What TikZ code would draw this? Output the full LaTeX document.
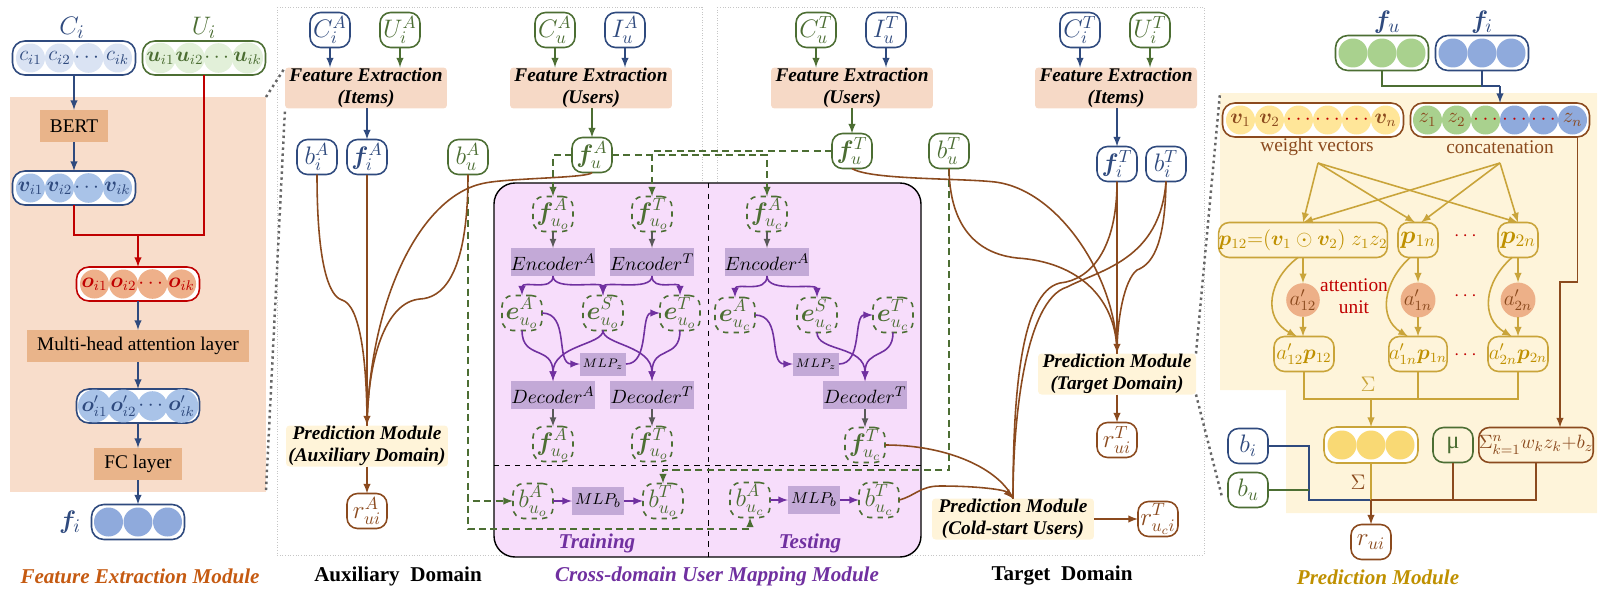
\documentclass[tikz,border=0pt]{standalone}
\usepackage{amsmath}
\usepackage{amssymb}
\usepackage{bm}
\usepackage{fontspec}
\setmainfont{Liberation Serif}
\usepackage{tikz}
\usetikzlibrary{arrows}
\usetikzlibrary{positioning}

\definecolor{dblue}{HTML}{2F4A7E}
\definecolor{dgreen}{HTML}{4C6E33}
\definecolor{brn}{HTML}{8B4A1E}
\definecolor{vpurple}{HTML}{7030A0}
\definecolor{gold}{HTML}{BF9000}
\definecolor{goldl}{HTML}{C9A43A}
\definecolor{dred}{HTML}{C00000}
\definecolor{orng}{HTML}{C55A11}
\definecolor{bgpeach}{HTML}{F8DDCB}
\definecolor{fepeach}{HTML}{F6D9C6}
\definecolor{layerpeach}{HTML}{E9B48A}
\definecolor{pmyellow}{HTML}{FFF4D9}
\definecolor{pmbg}{HTML}{FEF4DA}
\definecolor{mapbg}{HTML}{F7DDFB}
\definecolor{nnpurple}{HTML}{C3A9D7}
\definecolor{cblue}{HTML}{DAE3F3}
\definecolor{cgreen}{HTML}{E2F0D9}
\definecolor{vblue}{HTML}{A9C3E8}
\definecolor{osalmon}{HTML}{EEB08A}
\definecolor{fblue}{HTML}{8FAADC}
\definecolor{fgreen}{HTML}{A9D18E}
\definecolor{wyellow}{HTML}{FFE699}
\definecolor{syellow}{HTML}{F9D974}
\definecolor{asalmon}{HTML}{EDB088}

\newcommand{\fsmain}{\fontsize{11}{12.5}\selectfont}
\newcommand{\fsmid}{\fontsize{12}{14}\selectfont}
\newcommand{\fsmath}{\fontsize{14}{16}\selectfont}
\newcommand{\fsbig}{\fontsize{15}{17}\selectfont}
\newcommand{\fsball}{\fontsize{12}{14}\selectfont}
\newcommand{\fstitle}{\fontsize{12}{14}\selectfont}
\newcommand{\fstiny}{\fontsize{7}{8}\selectfont}
\newcommand{\fsmlp}{\fontsize{9.5}{11}\selectfont}

\begin{document}
\begin{tikzpicture}[x=0.02cm,y=-0.02cm,>=latex,
  every node/.style={inner sep=0pt,outer sep=0pt,font=\fsmain},
  valbox/.style={draw,rounded corners=6pt,line width=0.9pt,fill=white,
    minimum width=0.8cm,minimum height=0.7cm,font=\fsmath},
  dashbox/.style={valbox,dashed,draw=dgreen,fill=none,text=dgreen},
  rowbox/.style={draw,rounded corners=7pt,line width=0.9pt,fill=white,minimum height=0.68cm},
  ball/.style={circle,minimum size=0.58cm,font=\fsball},
  febox/.style={fill=fepeach,rounded corners=2pt,minimum width=3.24cm,
    minimum height=0.82cm,align=center,font=\fsmain\bfseries\itshape},
  pmbox/.style={febox,fill=pmyellow},
  layer/.style={fill=layerpeach,minimum height=0.64cm},
  nnbox/.style={fill=nnpurple,minimum width=1.68cm,minimum height=0.56cm},
  title/.style={font=\fstitle\bfseries\itshape},
  frame/.style={draw=gray!45,densely dotted,line width=0.5pt},
  zoomln/.style={draw=gray!80!black,dotted,line width=1.4pt},
  bl/.style={draw=dblue,line width=0.9pt},
  gl/.style={draw=dgreen,line width=0.9pt},
  rl/.style={draw=dred,line width=0.9pt},
  brl/.style={draw=brn,line width=0.9pt},
  pl/.style={draw=vpurple,line width=0.9pt},
  gryl/.style={draw=gray!70!black,line width=0.8pt},
  gdl/.style={draw=dgreen,dash pattern=on 4pt off 2.5pt,line width=0.9pt},
  gol/.style={draw=goldl,line width=0.9pt}
]
\useasboundingbox (0,0) rectangle (1602,602);

% frames of the two domains
\draw[frame] (277,7) rectangle (702,555);
\draw[frame] (717,7) rectangle (1204,555);

% feature extraction module
\fill[bgpeach] (10,97) rectangle (266,492);
\coordinate (fne) at (266,97);
\coordinate (fse) at (266,490);
\node[font=\fsbig,text=dblue] at (72,28) (Clab) {$C_i$};
\node[font=\fsbig,text=dgreen] at (204,28) (Ulab) {$U_i$};
\node[rowbox,draw=dblue,minimum width=2.46cm] at (74,58) (Crow) {};
\node[rowbox,draw=dgreen,minimum width=2.46cm] at (204,58) (Urow) {};
\foreach \lbl [count=\k] in {c_{i1},c_{i2},\cdots,c_{ik}}
  \node[ball,fill=cblue,text=dblue] at ({74+29*(\k-2.5)},58) (c\k) {$\lbl$};
\foreach \lbl [count=\k] in {\bm{u}_{i1},\bm{u}_{i2},\cdots,\bm{u}_{ik}}
  \node[ball,fill=cgreen,text=dgreen] at ({204+29*(\k-2.5)},58) (u\k) {$\lbl$};
\node[layer,minimum width=1.38cm] at (74,126) (bert) {BERT};
\draw[bl,->] (Crow) -- (bert);
\node[rowbox,draw=dblue,minimum width=2.46cm] at (74,188) (vrow) {};
\foreach \lbl [count=\k] in {\bm{v}_{i1},\bm{v}_{i2},\cdots,\bm{v}_{ik}}
  \node[ball,fill=vblue,text=dblue] at ({74+29*(\k-2.5)},188) (v\k) {$\lbl$};
\draw[bl,->] (bert) -- (vrow);
\coordinate (rj) at (138,235);
\node[rowbox,draw=dred,minimum width=2.46cm] at (138,284) (orow) {};
\foreach \lbl [count=\k] in {\bm{o}_{i1},\bm{o}_{i2},\cdots,\bm{o}_{ik}}
  \node[ball,fill=osalmon,text=dred] at ({138+29*(\k-2.5)},284) (o\k) {$\lbl$};
\draw[rl] (vrow.south) |- (rj) -| (Urow.south);
\draw[rl,->] (rj) -- (orow);
\node[layer,minimum width=4.44cm] at (138,346) (mha) {Multi-head attention layer};
\draw[bl,->] (orow) -- (mha);
\node[rowbox,draw=dblue,minimum width=2.46cm] at (138,406) (oprow) {};
\foreach \lbl [count=\k] in {\bm{o}'_{i1},\bm{o}'_{i2},\cdots,\bm{o}'_{ik}}
  \node[ball,fill=vblue,text=dblue] at ({138+29*(\k-2.5)},406) (op\k) {$\lbl$};
\draw[bl,->] (mha) -- (oprow);
\node[layer,minimum width=1.76cm] at (138,464) (fc) {FC layer};
\draw[bl,->] (oprow) -- (fc);
\node[rowbox,draw=dblue,minimum width=1.86cm,minimum height=0.7cm] at (138,522) (firow) {};
\foreach \k in {1,2,3}
  \node[ball,fill=fblue] at ({138+29.5*(\k-2)},522) (fb\k) {};
\draw[bl,->] (fc) -- (firow);
\node[font=\fsbig,text=dblue] at (70,522) (filab) {$\bm{f}_i$};
\node[title,text=orng] at (140,576) (fetitle) {Feature Extraction Module};

% auxiliary domain
\node[valbox,draw=dblue,text=dblue] at (330,30) (CiA) {$C_i^A$};
\node[valbox,draw=dgreen,text=dgreen] at (400,30) (UiA) {$U_i^A$};
\node[valbox,draw=dgreen,text=dgreen] at (555,30) (CuA) {$C_u^A$};
\node[valbox,draw=dblue,text=dblue] at (625,30) (IuA) {$I_u^A$};
\node[febox] at (366,88) (feIA) {Feature Extraction\\(Items)};
\node[febox] at (591,88) (feUA) {Feature Extraction\\(Users)};
\draw[bl,->] (CiA.south) -- (CiA.south |- feIA.north);
\draw[gl,->] (UiA.south) -- (UiA.south |- feIA.north);
\draw[gl,->] (CuA.south) -- (CuA.south |- feUA.north);
\draw[bl,->] (IuA.south) -- (IuA.south |- feUA.north);
\node[valbox,draw=dblue,text=dblue] at (317,157) (biA) {$b_i^A$};
\node[valbox,draw=dblue,text=dblue] at (367,157) (fiA) {$\bm{f}_i^A$};
\node[valbox,draw=dgreen,text=dgreen] at (468,157) (buA) {$b_u^A$};
\node[valbox,draw=dgreen,text=dgreen] at (592,155) (fuA) {$\bm{f}_u^A$};
\draw[bl,->] (fiA.north |- feIA.south) -- (fiA.north);
\draw[gl,->] (fuA.north |- feUA.south) -- (fuA.north);
\node[pmbox] at (367,446) (pmA) {Prediction Module\\(Auxiliary Domain)};
\node[valbox,draw=brn,text=brn] at (367,511) (ruiA) {$r_{ui}^A$};
\draw[brl,->] (pmA) -- (ruiA);
\draw[zoomln] (fne) -- (feIA.north west);
\draw[zoomln] (fse) -- (feIA.south west);

% cross-domain user mapping module
\draw[fill=mapbg,rounded corners=12pt,line width=0.8pt] (494,183) rectangle (921,557);
\draw[dashed,line width=0.5pt] (708,183) -- (708,557);
\draw[dashed,line width=0.5pt] (494,465) -- (921,465);
% training
\node[dashbox] at (553,214) (fuoA) {$\bm{f}_{u_o}^A$};
\node[dashbox] at (652,214) (fuoT) {$\bm{f}_{u_o}^T$};
\node[nnbox] at (553,262) (encoA) {$Encoder^A$};
\node[nnbox] at (652,262) (encoT) {$Encoder^T$};
\node[dashbox] at (522,313) (eoA) {$\bm{e}_{u_o}^A$};
\node[dashbox] at (603,313) (eoS) {$\bm{e}_{u_o}^S$};
\node[dashbox] at (680,313) (eoT) {$\bm{e}_{u_o}^T$};
\node[nnbox,minimum width=0.92cm,minimum height=0.46cm,font=\fstiny] at (603,364) (mlpzo) {$MLP_z$};
\node[nnbox] at (553,395) (decoA) {$Decoder^A$};
\node[nnbox] at (652,395) (decoT) {$Decoder^T$};
\node[dashbox] at (553,444) (fuoA2) {$\bm{f}_{u_o}^A$};
\node[dashbox] at (652,444) (fuoT2) {$\bm{f}_{u_o}^T$};
\node[dashbox] at (533,501) (buoA) {$b_{u_o}^A$};
\node[nnbox,minimum width=1.04cm,font=\fsmlp] at (598,501) (mlpbo) {$MLP_b$};
\node[dashbox] at (663,501) (buoT) {$b_{u_o}^T$};
\node[title,text=vpurple] at (597,543) (trainlab) {Training};
\draw[gryl,->] (fuoA) -- (encoA);
\draw[gryl,->] (fuoT) -- (encoT);
\draw[gryl,->] (decoA) -- (fuoA2);
\draw[gryl,->] (decoT) -- (fuoT2);
\draw[pl,->] (encoA.south) .. controls (553,292) and (522,280) .. (eoA.north);
\draw[pl,->] (encoA.south) .. controls (553,292) and (603,280) .. (eoS.north);
\draw[pl,->] (encoT.south) .. controls (652,292) and (603,280) .. (eoS.north);
\draw[pl,->] (encoT.south) .. controls (652,292) and (680,280) .. (eoT.north);
\draw[pl,->] (eoA.south) .. controls (522,360) and (553,345) .. (decoA.north);
\draw[pl,->] (eoA.east) .. controls (570,313) and (555,364) .. (mlpzo.west);
\draw[pl,->] (eoS.south) .. controls (603,345) and (553,345) .. (decoA.north);
\draw[pl,->] (eoS.south) .. controls (603,345) and (652,345) .. (decoT.north);
\draw[pl,->] (mlpzo.east) .. controls (650,364) and (640,313) .. (eoT.west);
\draw[pl,->] (eoT.south) .. controls (680,360) and (652,345) .. (decoT.north);
\draw[pl,->] (buoA) -- (mlpbo);
\draw[pl,->] (mlpbo) -- (buoT);
% testing
\node[dashbox] at (767,214) (fucA) {$\bm{f}_{u_c}^A$};
\node[nnbox] at (767,262) (enccA) {$Encoder^A$};
\node[dashbox] at (735,315) (ecA) {$\bm{e}_{u_c}^A$};
\node[dashbox] at (817,315) (ecS) {$\bm{e}_{u_c}^S$};
\node[dashbox] at (893,315) (ecT) {$\bm{e}_{u_c}^T$};
\node[nnbox,minimum width=0.92cm,minimum height=0.46cm,font=\fstiny] at (816,364) (mlpzc) {$MLP_z$};
\node[nnbox] at (865,395) (deccT) {$Decoder^T$};
\node[dashbox] at (865,445) (fucT) {$\bm{f}_{u_c}^T$};
\node[dashbox] at (750,500) (bucA) {$b_{u_c}^A$};
\node[nnbox,minimum width=1.04cm,font=\fsmlp] at (814,500) (mlpbc) {$MLP_b$};
\node[dashbox] at (879,500) (bucT) {$b_{u_c}^T$};
\node[title,text=vpurple] at (810,543) (testlab) {Testing};
\draw[gryl,->] (fucA) -- (enccA);
\draw[gryl,->] (deccT) -- (fucT);
\draw[pl,->] (enccA.south) .. controls (767,294) and (735,282) .. (ecA.north);
\draw[pl,->] (enccA.south) .. controls (767,294) and (817,282) .. (ecS.north);
\draw[pl,->] (ecA.east) .. controls (783,315) and (768,364) .. (mlpzc.west);
\draw[pl,->] (mlpzc.east) .. controls (863,364) and (853,315) .. (ecT.west);
\draw[pl,->] (ecS.south) .. controls (817,352) and (865,345) .. (deccT.north);
\draw[pl,->] (ecT.south) .. controls (893,360) and (865,348) .. (deccT.north);
\draw[pl,->] (bucA) -- (mlpbc);
\draw[pl,->] (mlpbc) -- (bucT);

% target domain
\node[valbox,draw=dgreen,text=dgreen] at (816,30) (CuT) {$C_u^T$};
\node[valbox,draw=dblue,text=dblue] at (886,30) (IuT) {$I_u^T$};
\node[valbox,draw=dblue,text=dblue] at (1080,30) (CiT) {$C_i^T$};
\node[valbox,draw=dgreen,text=dgreen] at (1150,30) (UiT) {$U_i^T$};
\node[febox] at (852,88) (feUT) {Feature Extraction\\(Users)};
\node[febox] at (1116,88) (feIT) {Feature Extraction\\(Items)};
\draw[gl,->] (CuT.south) -- (CuT.south |- feUT.north);
\draw[bl,->] (IuT.south) -- (IuT.south |- feUT.north);
\draw[bl,->] (CiT.south) -- (CiT.south |- feIT.north);
\draw[gl,->] (UiT.south) -- (UiT.south |- feIT.north);
\node[valbox,draw=dgreen,text=dgreen] at (852,151) (fuT) {$\bm{f}_u^T$};
\node[valbox,draw=dgreen,text=dgreen] at (949,151) (buT) {$b_u^T$};
\node[valbox,draw=dblue,text=dblue] at (1117,164) (fiT) {$\bm{f}_i^T$};
\node[valbox,draw=dblue,text=dblue] at (1166,164) (biT) {$b_i^T$};
\draw[gl,->] (fuT.north |- feUT.south) -- (fuT.north);
\draw[bl,->] (fiT.north |- feIT.south) -- (fiT.north);
\node[pmbox,minimum width=3.16cm] at (1117,374) (pmT) {Prediction Module\\(Target Domain)};
\node[valbox,draw=brn,text=brn] at (1117,440) (ruiT) {$r_{ui}^T$};
\node[pmbox] at (1013,519) (pmC) {Prediction Module\\(Cold-start Users)};
\node[valbox,draw=brn,text=brn] at (1158,519) (rucT) {$r_{u_ci}^T$};
\draw[brl,->] (pmT) -- (ruiT);
\draw[brl,->] (pmC) -- (rucT);

% green dashed feeds
\coordinate (gb) at (468,529);
\coordinate (bj) at (663,470);
\draw[gdl,->] (buA.south) |- (buoA.west);
\draw[gdl,->] (buA.south) -- (gb) -| (bucA.south);
\draw[gdl,->] (fuA.west) -| (fuoA.north);
\draw[gdl,->] (fuA.east) -| (fucA.north);
\draw[gdl,->] (fuT.west) -| (fuoT.north);
\draw[gdl,->] (buT.south) |- (bj) -- (buoT.north);

% brown curves into the prediction modules
\draw[brl] (biA.south) .. controls (317,285) and (335,298) .. (342,300) .. controls (360,305) and (367,360) .. (pmA.north);
\draw[brl,->] (fiA.south) -- (pmA.north);
\draw[brl] (buA.south) .. controls (468,280) and (440,298) .. (420,299) .. controls (385,302) and (368,360) .. (pmA.north);
\draw[brl] (fuA.south) .. controls (590,178) and (510,178) .. (485,183) .. controls (420,195) and (370,300) .. (pmA.north);
\draw[brl] (fuT.south) .. controls (870,180) and (960,178) .. (995,182) .. controls (1060,190) and (1117,280) .. (pmT.north);
\draw[brl] (buT.south) .. controls (950,240) and (990,255) .. (1017,258) .. controls (1080,262) and (1117,300) .. (pmT.north);
\draw[brl,->] (fiT.south) -- (pmT.north);
\draw[brl] (biT.south) .. controls (1165,250) and (1150,265) .. (1137,270) .. controls (1124,280) and (1117,320) .. (pmT.north);
\draw[brl] (fiT.south) .. controls (1117,250) and (1090,280) .. (1060,283) .. controls (1020,292) and (1013,400) .. (pmC.north);
\draw[brl] (biT.south) .. controls (1160,260) and (1100,270) .. (1067,287) .. controls (1025,300) and (1013,420) .. (pmC.north);
\draw[brl] (fucT.east) .. controls (950,445) and (1000,470) .. (pmC.north);
\draw[brl,->] (bucT.east) .. controls (915,496) and (920,486) .. (940,486) .. controls (980,486) and (1005,490) .. (pmC.north);

% prediction module
\fill[pmbg] (1220,93) -- (1597,93) -- (1597,513) -- (1286,513) -- (1286,390) -- (1220,390) -- cycle;
\coordinate (pnw) at (1220,93);
\coordinate (psw) at (1222,497);
\draw[zoomln] (pmT.north east) -- (pnw);
\draw[zoomln] (pmT.south east) -- (psw);
\node[font=\fsbig,text=dblue] at (1387,22) (fulab) {$\bm{f}_u$};
\node[font=\fsbig,text=dblue] at (1482,22) (filab2) {$\bm{f}_i$};
\node[rowbox,draw=dgreen,minimum width=1.86cm,minimum height=0.7cm] at (1382,53) (furow) {};
\node[rowbox,draw=dblue,minimum width=1.86cm,minimum height=0.7cm] at (1482,53) (firow2) {};
\foreach \k in {1,2,3} {
  \node[ball,fill=fgreen] at ({1382+29*(\k-2)},53) (fg\k) {};
  \node[ball,fill=fblue] at ({1482+29*(\k-2)},53) (fbb\k) {};
}
\node[rowbox,draw=brn,minimum width=3.62cm] at (1313,120) (wrow) {};
\foreach \lbl [count=\k] in {\bm{v}_1,\bm{v}_2,\textcolor{dred}{\cdots},\textcolor{dred}{\cdots},\textcolor{dred}{\cdots},\bm{v}_n}
  \node[ball,fill=wyellow,text=brn] at ({1313+29*(\k-3.5)},120) (w\k) {$\lbl$};
\node[rowbox,draw=brn,minimum width=3.58cm] at (1500,120) (zrow) {};
\foreach \lbl/\col [count=\k] in {z_1/fgreen,z_2/fgreen,\textcolor{dred}{\cdots}/fgreen,\textcolor{dred}{\cdots}/fblue,\textcolor{dred}{\cdots}/fblue,z_n/fblue}
  \node[ball,fill=\col,text=brn] at ({1500+29*(\k-3.5)},120) (z\k) {$\lbl$};
\coordinate (cj) at (1500,86);
\draw[gl] (furow.south) |- (cj);
\draw[bl] (firow2.south) |- (cj);
\draw[bl,->] (cj) -- (zrow.north);
\node[text=brn] at (1317,147) (wlab) {weight vectors};
\node[text=brn] at (1500,147) (zlab) {concatenation};
\coordinate (wsrc) at (1318,163);
\coordinate (zsrc) at (1500,163);
\node[valbox,fill=none,draw=goldl,text=gold,minimum width=3.1cm,font=\fsmid] at (1303,240) (p12) {$\bm{p}_{12}{=}(\bm{v}_1\odot\bm{v}_2)\;z_1z_2$};
\node[valbox,fill=none,draw=goldl,text=gold] at (1418,240) (p1n) {$\bm{p}_{1n}$};
\node[valbox,fill=none,draw=goldl,text=gold] at (1518,240) (p2n) {$\bm{p}_{2n}$};
\node[text=dred] at (1467,236) (dots1) {$\cdots$};
\draw[gol,->] (wsrc) -- (p12.north);
\draw[gol,->] (wsrc) -- ([xshift=-0.06cm]p1n.north);
\draw[gol,->] (wsrc) -- (p2n.north);
\draw[gol,->] (zsrc) -- (p12.north);
\draw[gol,->] (zsrc) -- ([xshift=0.06cm]p1n.north);
\draw[gol,->] (zsrc) -- (p2n.north);
\node[circle,fill=asalmon,minimum size=0.54cm,text=brn,font=\fsmid] at (1303,300) (a12) {$a'_{12}$};
\node[circle,fill=asalmon,minimum size=0.54cm,text=brn,font=\fsmid] at (1418,300) (a1n) {$a'_{1n}$};
\node[circle,fill=asalmon,minimum size=0.54cm,text=brn,font=\fsmid] at (1518,300) (a2n) {$a'_{2n}$};
\node[text=dred] at (1467,296) (dots2) {$\cdots$};
\node[text=dred,align=center] at (1354,296) (attlab) {attention\\unit};
\node[valbox,fill=none,draw=goldl,text=gold,minimum width=1.2cm,font=\fsmid] at (1304,354) (ap12) {$a'_{12}\bm{p}_{12}$};
\node[valbox,fill=none,draw=goldl,text=gold,minimum width=1.16cm,font=\fsmid] at (1418,354) (ap1n) {$a'_{1n}\bm{p}_{1n}$};
\node[valbox,fill=none,draw=goldl,text=gold,minimum width=1.2cm,font=\fsmid] at (1518,354) (ap2n) {$a'_{2n}\bm{p}_{2n}$};
\node[text=dred] at (1467,355) (dots3) {$\cdots$};
\draw[gol,->] (p12.south) -- (a12.north);
\draw[gol,->] (p1n.south) -- (a1n.north);
\draw[gol,->] (p2n.south) -- (a2n.north);
\draw[gol,->] (a12.south) -- (ap12.north -| a12);
\draw[gol,->] (a1n.south) -- (ap1n.north);
\draw[gol,->] (a2n.south) -- (ap2n.north);
\draw[gol,->] ([xshift=-0.1cm]p12.south) .. controls (1268,280) and (1262,318) .. ([xshift=-0.14cm]ap12.north);
\draw[gol,->] ([xshift=-0.16cm]p1n.south) .. controls (1383,282) and (1378,318) .. ([xshift=-0.2cm]ap1n.north);
\draw[gol,->] ([xshift=-0.12cm]p2n.south) .. controls (1484,282) and (1480,318) .. ([xshift=-0.12cm]ap2n.north);
\coordinate (sj) at (1371,399);
\node[rowbox,draw=goldl,minimum width=1.88cm,minimum height=0.72cm] at (1371,445) (yrow) {};
\foreach \k in {1,2,3}
  \node[ball,fill=syellow] at ({1371+29*(\k-2)},445) (y\k) {};
\draw[gol] (ap12.south) |- (sj) -| (ap2n.south);
\draw[gol] (ap1n.south) -- (ap1n.south |- sj);
\draw[gol,->] (sj) -- (yrow.north);
\node[text=goldl,font=\fsmid] at (1368,384) (sig1) {$\Sigma$};
\node[valbox,fill=none,draw=dgreen,text=dgreen] at (1453,445) (mu) {μ};
\node[valbox,fill=none,draw=brn,text=brn,minimum width=2.12cm,font=\fsmain] at (1536,445) (sumz) {$\Sigma_{k=1}^{n}w_kz_k{+}b_z$};
\coordinate (zk) at (1560,282);
\draw[brl,->] ([xshift=-0.24cm]zrow.south east) |- (zk) -- (zk |- sumz.north);
\node[valbox,draw=dblue,text=dblue] at (1248,446) (bi) {$b_i$};
\node[valbox,draw=dgreen,text=dgreen] at (1248,490) (bu) {$b_u$};
\node[valbox,draw=brn,text=brn] at (1371,542) (rui) {$r_{ui}$};
\node[text=brn,font=\fsmid] at (1358,482) (sig2) {$\Sigma$};
\coordinate (rj2) at (1371,500);
\coordinate (bk) at (1309,500);
\draw[bl] (bi.east) -| (bk) -- (rj2);
\draw[gl] (bu.east) -- (bu.east -| bk);
\draw[gol] (yrow.south) -- (rj2);
\draw[brl] (mu.south) |- (rj2);
\draw[brl] (sumz.south) |- (rj2);
\draw[brl,->] (rj2) -- (rui.north);

% titles
\node[font=\fstitle\bfseries] at (398,576) (auxlab) {Auxiliary\ \ Domain};
\node[title,text=vpurple] at (717,576) (maplab) {Cross-domain User Mapping Module};
\node[font=\fstitle\bfseries] at (1062,576) (tarlab) {Target\ \ Domain};
\node[title,text=gold] at (1378,577) (pmlab) {Prediction Module};
\end{tikzpicture}
\end{document}
